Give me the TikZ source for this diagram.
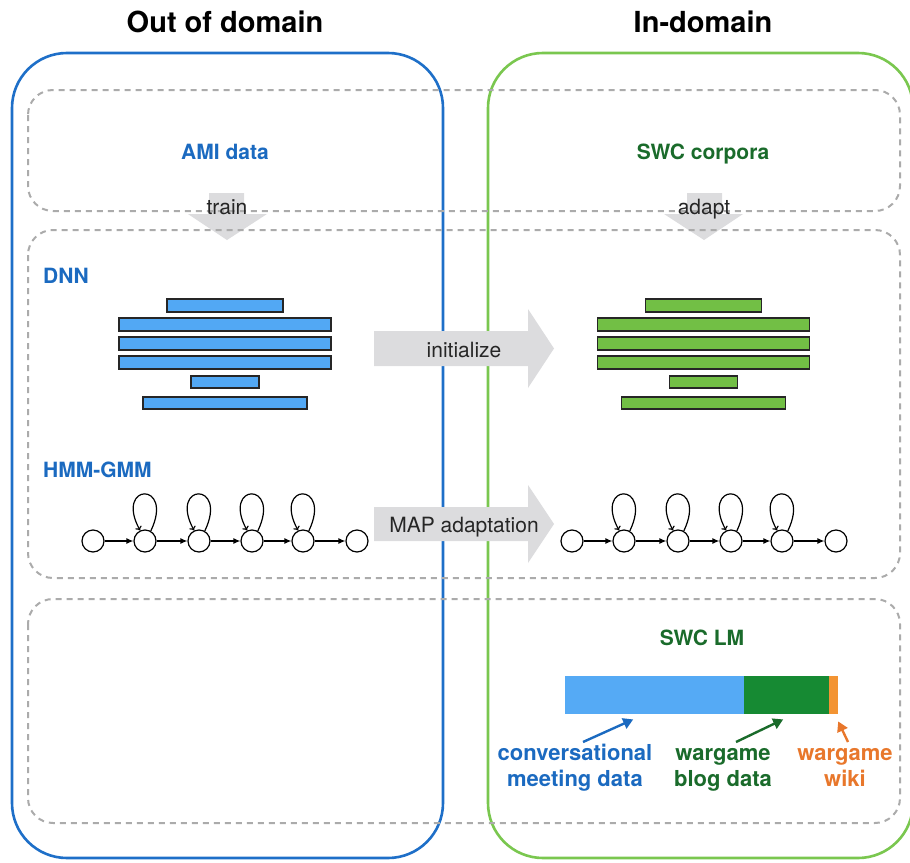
\documentclass[tikz,border=0pt]{standalone}
\usepackage{fontspec}
\setmainfont{TeX Gyre Heros}
\usetikzlibrary{arrows.meta,calc}

\definecolor{frameblue}{HTML}{1E6FC8}
\definecolor{framegreen}{HTML}{7AC74F}
\definecolor{inkblue}{HTML}{1B6AC0}
\definecolor{inkgreen}{HTML}{1A6B2B}
\definecolor{inkorange}{HTML}{E8772B}
\definecolor{dashgray}{HTML}{ABABAB}
\definecolor{arrowgray}{HTML}{DCDCDE}
\definecolor{layerblue}{HTML}{52A8F4}
\definecolor{layergreen}{HTML}{72BF45}
\definecolor{lmblue}{HTML}{55AAF5}
\definecolor{lmgreen}{HTML}{168A33}
\definecolor{lmorange}{HTML}{F39433}

\begin{document}
\begin{tikzpicture}[x=1pt,y=-1pt,
  domainframe/.style={line width=2.6pt, rounded corners=55pt},
  zone/.style={draw=dashgray, line width=2pt, dash pattern=on 6pt off 5pt, rounded corners=25pt},
  bigarrow/.style={fill=arrowgray, draw=none},
  heading/.style={font=\fontsize{29}{34}\selectfont\bfseries, inner sep=0pt, anchor=base},
  tag/.style={font=\fontsize{21}{25}\selectfont\bfseries, inner sep=0pt, anchor=base},
  note/.style={font=\fontsize{21}{25}\selectfont, text=black!85, inner sep=0pt, anchor=base},
  legend/.style={font=\fontsize{22}{26}\selectfont\bfseries, inner sep=0pt, align=center, anchor=base},
  layer/.style={draw=black!85, line width=1.2pt, minimum height=13pt, inner sep=0pt},
  state/.style={circle, draw, line width=1.2pt, minimum size=22pt, inner sep=0pt, fill=white},
  trans/.style={-{Latex[length=7pt,width=6pt]}, line width=1.2pt},
  selfloop/.style={-{To[length=4pt,width=7pt]}, line width=1.2pt},
  pointer/.style={-{Triangle[length=10pt,width=11pt]}, line width=2.4pt},
  segment/.style={draw=none, inner sep=0pt, minimum height=38pt, anchor=north west}
]
\useasboundingbox (0,0) rectangle (910,862);

% domain frames
\draw[domainframe, draw=frameblue] (12,53) rectangle (443,858);
\draw[domainframe, draw=framegreen] (488,53) rectangle (913,858);

% train / adapt arrows
\fill[bigarrow] (209,193) -- (244,193) -- (244,214) -- (267,214) -- (227,240)
  -- (188,214) -- (209,214) -- cycle;
\fill[bigarrow] (687,193) -- (722,193) -- (722,214) -- (743,214) -- (704,240)
  -- (664,214) -- (687,214) -- cycle;

% dashed zones
\draw[zone] (28,90) rectangle (900,211);
\draw[zone] (28,230) rectangle (900,578);
\draw[zone] (28,599) rectangle (900,823);

% initialize / MAP arrows
\fill[bigarrow] (374,331) -- (528,331) -- (528,309) -- (554,348.5) -- (528,388)
  -- (528,366) -- (374,366) -- cycle;
\fill[bigarrow] (374,507) -- (528,507) -- (528,485) -- (554,524) -- (528,563)
  -- (528,541) -- (374,541) -- cycle;

% titles and labels
\node[heading] (tout) at (225,32) {Out of domain};
\node[heading] (tin) at (703,32) {In-domain};
\node[tag, text=inkblue] (ami) at (225,159) {AMI data};
\node[tag, text=inkgreen] (swc) at (703,159) {SWC corpora};
\node[note] (train) at (227,214) {train};
\node[note] (adapt) at (704,214) {adapt};
\node[tag, text=inkblue, anchor=base west] (dnn) at (43,283) {DNN};
\node[tag, text=inkblue, anchor=base west] (hmm) at (43,477) {HMM-GMM};
\node[note] (init) at (464,357) {initialize};
\node[note] (map) at (464,532) {MAP adaptation};

% DNN layers, out of domain
\node[layer, fill=layerblue, minimum width=116pt] (a1) at (225,305.5) {};
\node[layer, fill=layerblue, minimum width=212pt] (a2) at (225,324.5) {};
\node[layer, fill=layerblue, minimum width=212pt] (a3) at (225,343.5) {};
\node[layer, fill=layerblue, minimum width=212pt] (a4) at (225,362.5) {};
\node[layer, fill=layerblue, minimum width=68pt, minimum height=12pt] (a5) at (225,382) {};
\node[layer, fill=layerblue, minimum width=164pt, minimum height=12pt] (a6) at (225,403) {};

% DNN layers, in-domain
\node[layer, fill=layergreen, minimum width=116pt] (b1) at (703.5,305.5) {};
\node[layer, fill=layergreen, minimum width=212pt] (b2) at (703.5,324.5) {};
\node[layer, fill=layergreen, minimum width=212pt] (b3) at (703.5,343.5) {};
\node[layer, fill=layergreen, minimum width=212pt] (b4) at (703.5,362.5) {};
\node[layer, fill=layergreen, minimum width=68pt, minimum height=12pt] (b5) at (703.5,382) {};
\node[layer, fill=layergreen, minimum width=164pt, minimum height=12pt] (b6) at (703.5,403) {};

% HMM chains
\foreach \p/\xo in {s/0, t/479} {
  \node[state] (\p1) at (93+\xo,541) {};
  \node[state] (\p2) at (145+\xo,541) {};
  \node[state] (\p3) at (199+\xo,541) {};
  \node[state] (\p4) at (252+\xo,541) {};
  \node[state] (\p5) at (303+\xo,541) {};
  \node[state] (\p6) at (357+\xo,541) {};
  \foreach \i/\j in {1/2,2/3,3/4,4/5,5/6}
    \draw[trans] (\p\i) -- (\p\j);
  \foreach \i in {2,3,4,5}
    \draw[selfloop] (\p\i.60) .. controls +(24,-50) and +(-26,-48) .. (\p\i.115);
}

% SWC LM composition bar
\node[tag, text=inkgreen] (lm) at (702,645) {SWC LM};
\node[segment, fill=lmblue, minimum width=179pt] (cmd) at (565,676) {};
\node[segment, fill=lmgreen, minimum width=85pt] (blog) at (744,676) {};
\node[segment, fill=lmorange, minimum width=9pt] (wiki) at (829,676) {};

% legend texts (base anchor sits on the second line)
\node[legend, text=inkblue] (lcmd) at (575,786) {conversational\\meeting data};
\node[legend, text=inkgreen] (lblog) at (723,786) {wargame\\blog data};
\node[legend, text=inkorange] (lwiki) at (845,786) {wargame\\wiki};

\coordinate (scmd) at (583,742);
\coordinate (sblog) at (736,742);
\coordinate (swiki) at (848,742);
\draw[pointer, draw=inkblue] (scmd) -- ([shift={(-21.5,5)}]cmd.south);
\draw[pointer, draw=inkgreen] (sblog) -- ([shift={(-3.5,5)}]blog.south);
\draw[pointer, draw=inkorange] (swiki) -- ([shift={(4.5,7)}]wiki.south);
\end{tikzpicture}
\end{document}
